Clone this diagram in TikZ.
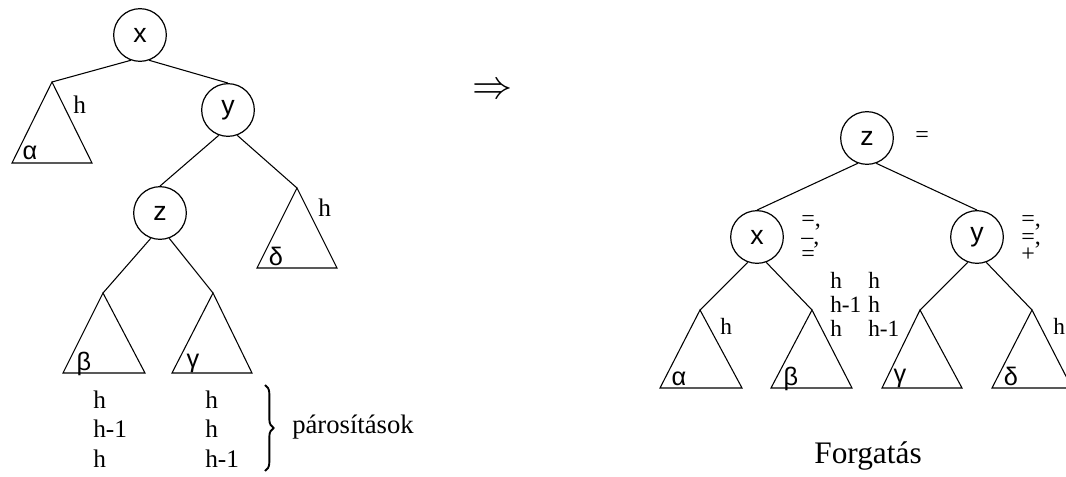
\documentclass[tikz,border=0pt]{standalone}
\usepackage{fontspec}
\setmainfont{Liberation Serif}
\newfontfamily\labelsf{Liberation Sans}
\usetikzlibrary{decorations.pathreplacing}

\begin{document}
\begin{tikzpicture}[
    x=0.75pt, y=-0.75pt,
    vertex/.style={circle, draw, line width=0.9pt, minimum size=39.5pt, inner sep=0pt, font=\labelsf\fontsize{20}{20}\selectfont},
    sub/.style={draw, line width=0.8pt, line join=miter},
    edge/.style={line width=0.8pt},
    greek/.style={anchor=base, inner sep=0pt, font=\labelsf\fontsize{19}{19}\selectfont},
    hlab/.style={anchor=base west, inner sep=0pt, font=\fontsize{19}{19}\selectfont},
    hsmall/.style={anchor=base west, inner sep=0pt, font=\fontsize{17.5}{17.5}\selectfont},
    bal/.style={anchor=base west, inner sep=0pt, text height=6.5pt, text depth=2.5pt, font=\fontsize{18}{18}\selectfont}]

    \useasboundingbox (0,0) rectangle (1066,477);

    % Left tree: before rotation
    \node[vertex] (x1) at (140,35) {x};
    \node[vertex] (y1) at (228,110) {y};
    \node[vertex] (z1) at (160,213) {z};

    \coordinate (a1) at (52,82);
    \coordinate (d1) at (297,188);
    \coordinate (b1) at (103,293);
    \coordinate (g1) at (213,293);
    \draw[sub] (a1) -- ++(-40,81) -- ++(80,0) -- cycle;
    \draw[sub] (d1) -- ++(-40,80) -- ++(80,0) -- cycle;
    \draw[sub] (b1) -- ++(-40,80) -- ++(82,0) -- cycle;
    \draw[sub] (g1) -- ++(-41,80) -- ++(80,0) -- cycle;

    \node[greek] (a1l) at (30,160) {α};
    \node[greek] (d1l) at (276,265) {δ};
    \node[greek] (b1l) at (84,370) {β};
    \node[greek] (g1l) at (193,367) {γ};
    \node[hlab] (a1h) at (73,114) {h};
    \node[hlab] (d1h) at (318,217) {h};

    \draw[edge] (x1.-110) -- (a1);
    \draw[edge] (x1.-70) -- (y1.north);
    \draw[edge] (y1.-110) -- (z1.north);
    \draw[edge] (y1.-70) -- (d1);
    \draw[edge] (z1.-110) -- (b1);
    \draw[edge] (z1.-70) -- (g1);

    % Pairings under beta and gamma
    \foreach \t [count=\i from 0] in {h,h-1,h}
        \node[hlab] (pb\i) at (93,408+29.5*\i) {\t};
    \foreach \t [count=\i from 0] in {h,h,h-1}
        \node[hlab] (pg\i) at (205,408+29.5*\i) {\t};
    \draw[line width=1.4pt, decorate, decoration={brace, amplitude=6.5pt}] (265,385) coordinate (br1) -- (265,471) coordinate (br2);
    \node[hlab, font=\fontsize{20}{20}\selectfont] (par) at (292,433) {párosítások};

    \node[font=\fontsize{20}{20}\selectfont, scale=1.45] (impl) at (493,91) {$\Rightarrow$};

    % Right tree: after rotation
    \node[vertex] (z2) at (867,138) {z};
    \node[vertex] (x2) at (757,237) {x};
    \node[vertex] (y2) at (977,237) {y};

    \coordinate (a2) at (700,310);
    \coordinate (b2) at (812,310);
    \coordinate (g2) at (920,310);
    \coordinate (d2) at (1032,310);
    \draw[sub] (a2) -- ++(-40,78) -- ++(82,0) -- cycle;
    \draw[sub] (b2) -- ++(-41,78) -- ++(81,0) -- cycle;
    \draw[sub] (g2) -- ++(-38,78) -- ++(80,0) -- cycle;
    \draw[sub] (d2) -- ++(-40,78) -- ++(80,0) -- cycle;

    \node[greek] (a2l) at (679,385) {α};
    \node[greek] (b2l) at (791,385) {β};
    \node[greek] (g2l) at (900,382) {γ};
    \node[greek] (d2l) at (1011,385) {δ};
    \node[hsmall] (a2h) at (720,334) {h};
    \node[hsmall] (d2h) at (1053,334) {h};

    \draw[edge] (z2.-110) -- (x2.north);
    \draw[edge] (z2.-70) -- (y2.north);
    \draw[edge] (x2.-110) -- (a2);
    \draw[edge] (x2.-70) -- (b2);
    \draw[edge] (y2.-110) -- (g2);
    \draw[edge] (y2.-70) -- (d2);

    % Balance marks
    \node[bal] (zb) at (915,143) {=};
    \foreach \t [count=\i from 0] in {{=,},{–,},=}
        \node[bal] (xb\i) at (801,227+17*\i) {\t};
    \foreach \t [count=\i from 0] in {{=,},{=,},+}
        \node[bal] (yb\i) at (1021,227+17*\i) {\t};

    \foreach \t [count=\i from 0] in {h,h-1,h}
        \node[hsmall] (mb\i) at (830,288+24*\i) {\t};
    \foreach \t [count=\i from 0] in {h,h,h-1}
        \node[hsmall] (mg\i) at (868,288+24*\i) {\t};

    \node[anchor=base, font=\fontsize{23.5}{23.5}\selectfont] (rot) at (868,463) {Forgatás};
\end{tikzpicture}
\end{document}
